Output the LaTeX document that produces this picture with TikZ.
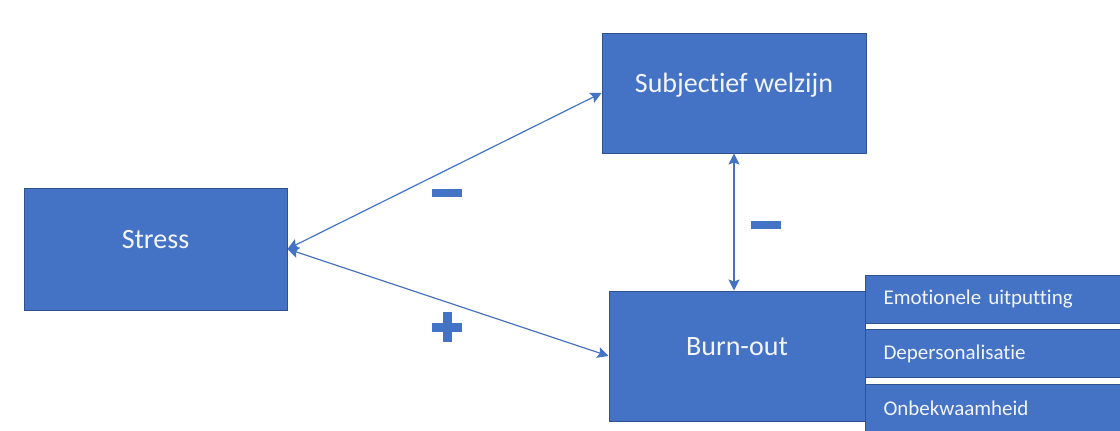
\documentclass[tikz,border=0pt]{standalone}
\usepackage{fontspec}
\setmainfont{Carlito}[Ligatures=NoCommon]
\usetikzlibrary{arrows.meta}

\definecolor{boxblue}{HTML}{4472C4}
\definecolor{boxline}{HTML}{2F528F}
\definecolor{boxtext}{HTML}{F2F5FC}

\begin{document}
\begin{tikzpicture}[x=1pt, y=-1pt,
	box/.style={rectangle, fill=boxblue, draw=boxline, line width=1pt, inner sep=0pt,
		text=boxtext, font=\fontsize{28}{32}\selectfont, text height=19pt, text depth=21pt},
	subbox/.style={rectangle, fill=boxblue, draw=boxline, line width=1pt, inner xsep=18pt, inner ysep=0pt,
		text=boxtext, font=\fontsize{21}{25}\selectfont, text width=224pt, align=left, minimum height=48pt},
	link/.style={{Stealth[length=11pt,width=11pt,inset=2pt]}-{Stealth[length=11pt,width=11pt,inset=2pt]}, draw=boxblue, line width=1.2pt},
	sign/.style={inner sep=0pt, text=boxblue}]
	\path[use as bounding box, clip] (0,0) rectangle (1120,431);

	% Define nodes
	\node[box, minimum width=263pt, minimum height=122pt] (stress) at (155.5,249) {Stress};
	\node[box, minimum width=264pt, minimum height=120pt] (welzijn) at (734,93) {Subjectief welzijn};
	\node[box, minimum width=256pt, minimum height=130pt] (burnout) at (737,356) {Burn-out};

	\node[subbox, anchor=north west] (emo) at (865,275) {Emotionele uitputting};
	\node[subbox, anchor=north west] (dep) at (865,329) {Depersonalisatie};
	\node[subbox, anchor=north west] (onb) at (865,384) {Onbekwaamheid};

	% Draw arrows
	\draw[link] (stress.east) -- (welzijn.west);
	\draw[link] (stress.east) -- (burnout.west);
	\draw[link] (welzijn.south) -- (welzijn.south |- burnout.north);

	% Signs
	\node[sign] (minA) at (447,193) {\rule{30pt}{8pt}};
	\node[sign] (minB) at (766,225) {\rule{30pt}{8pt}};
	\node[sign] (plusA) at (447,327) {\rlap{\rule[-4.5pt]{15pt}{9pt}}\llap{\rule[-4.5pt]{15pt}{9pt}}\rlap{\kern-4.5pt\rule[-15pt]{9pt}{30pt}}};
\end{tikzpicture}
\end{document}
